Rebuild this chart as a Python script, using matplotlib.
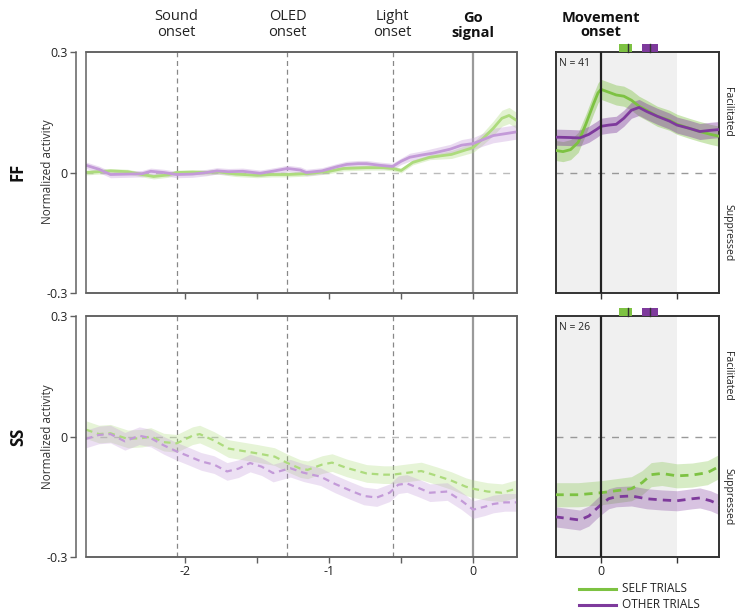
import matplotlib
matplotlib.use('Agg')
import matplotlib.pyplot as plt
from matplotlib.patches import Rectangle
from matplotlib.lines import Line2D

plt.rcParams['font.family'] = ['Open Sans', 'DejaVu Sans']

# ---------------- data ----------------
# Pre-movement (aligned to go signal), FF cells
ff_pre_self_t = [-2.69, -2.6, -2.52, -2.4, -2.3, -2.22, -2.12, -2.06, -1.95, -1.85, -1.78, -1.65, -1.5, -1.4,
                 -1.29, -1.15, -1.0, -0.9, -0.74, -0.62, -0.56, -0.5, -0.42, -0.3, -0.15, 0.0, 0.07, 0.14, 0.2,
                 0.25, 0.3]
ff_pre_self = [0.0, 0.002, 0.004, 0.002, -0.005, -0.01, -0.006, 0.0, 0.001, 0.0, 0.002, -0.004, -0.007, -0.005,
               -0.005, -0.003, 0.003, 0.01, 0.012, 0.012, 0.01, 0.005, 0.025, 0.038, 0.045, 0.062, 0.085, 0.11,
               0.135, 0.142, 0.13]
ff_pre_self_sem = [0.006] * 24 + [0.01, 0.012, 0.015, 0.018, 0.02, 0.02, 0.02]

ff_pre_other_t = [-2.69, -2.6, -2.52, -2.4, -2.3, -2.24, -2.15, -2.06, -1.95, -1.85, -1.78, -1.7, -1.6, -1.48,
                  -1.38, -1.29, -1.2, -1.16, -1.05, -0.95, -0.88, -0.8, -0.74, -0.65, -0.56, -0.5, -0.44, -0.35,
                  -0.28, -0.16, -0.08, 0.0, 0.07, 0.14, 0.23, 0.3]
ff_pre_other = [0.018, 0.008, -0.005, -0.004, -0.003, 0.003, 0.0, -0.005, -0.004, 0.0, 0.004, 0.002, 0.003,
                -0.002, 0.004, 0.01, 0.006, 0.0, 0.004, 0.014, 0.02, 0.022, 0.022, 0.018, 0.015, 0.028, 0.038,
                0.044, 0.048, 0.058, 0.068, 0.072, 0.082, 0.092, 0.097, 0.101]
ff_pre_other_sem = [0.008] * 26 + [0.01, 0.01, 0.012, 0.012, 0.014, 0.015, 0.016, 0.018, 0.018, 0.018]

# Pre-movement, SS cells
ss_pre_self_t = [-2.69, -2.6, -2.52, -2.4, -2.3, -2.24, -2.15, -2.06, -1.95, -1.9, -1.8, -1.7, -1.6, -1.5, -1.38,
                 -1.29, -1.2, -1.15, -1.05, -0.98, -0.88, -0.74, -0.62, -0.56, -0.45, -0.36, -0.25, -0.15, -0.05,
                 0.0, 0.1, 0.2, 0.3]
ss_pre_self = [0.017, 0.006, 0.008, -0.006, -0.004, 0.0, -0.014, -0.017, 0.002, 0.006, -0.01, -0.03, -0.036,
               -0.042, -0.05, -0.066, -0.08, -0.083, -0.07, -0.065, -0.078, -0.092, -0.095, -0.095, -0.09, -0.086,
               -0.098, -0.11, -0.125, -0.13, -0.137, -0.14, -0.13]
ss_pre_self_sem = 0.022

ss_pre_other_t = [-2.69, -2.6, -2.52, -2.42, -2.32, -2.24, -2.15, -2.06, -1.97, -1.89, -1.8, -1.71, -1.63, -1.55,
                  -1.47, -1.39, -1.33, -1.27, -1.18, -1.06, -0.96, -0.85, -0.76, -0.67, -0.58, -0.52, -0.46,
                  -0.38, -0.3, -0.18, -0.08, 0.0, 0.08, 0.14, 0.22, 0.3]
ss_pre_other = [-0.006, 0.004, 0.006, -0.012, 0.002, -0.004, -0.022, -0.037, -0.05, -0.062, -0.07, -0.087, -0.08,
                -0.066, -0.075, -0.091, -0.085, -0.079, -0.09, -0.1, -0.118, -0.135, -0.148, -0.152, -0.14, -0.12,
                -0.117, -0.128, -0.14, -0.137, -0.16, -0.182, -0.175, -0.168, -0.164, -0.164]
ss_pre_other_sem = 0.022

# Aligned to movement onset
ff_mov_self_t = [-0.3, -0.25, -0.2, -0.15, -0.1, -0.05, -0.02, 0.0, 0.05, 0.1, 0.15, 0.2, 0.25, 0.3, 0.37, 0.45,
                 0.5, 0.58, 0.65, 0.72, 0.78]
ff_mov_self = [0.055, 0.052, 0.057, 0.075, 0.12, 0.17, 0.198, 0.207, 0.2, 0.193, 0.19, 0.18, 0.165, 0.155, 0.14,
               0.13, 0.12, 0.11, 0.102, 0.095, 0.09]
ff_mov_self_sem = 0.025
ff_mov_other_t = [-0.3, -0.2, -0.14, -0.08, -0.03, 0.0, 0.05, 0.1, 0.15, 0.2, 0.25, 0.3, 0.37, 0.45, 0.5, 0.58,
                  0.65, 0.72, 0.78]
ff_mov_other = [0.088, 0.087, 0.086, 0.095, 0.107, 0.115, 0.118, 0.12, 0.135, 0.155, 0.162, 0.152, 0.14, 0.128,
                0.118, 0.11, 0.102, 0.105, 0.107]
ff_mov_other_sem = 0.02

ss_mov_self_t = [-0.3, -0.15, 0.0, 0.1, 0.2, 0.27, 0.33, 0.4, 0.5, 0.6, 0.7, 0.78]
ss_mov_self = [-0.145, -0.145, -0.14, -0.135, -0.13, -0.115, -0.095, -0.092, -0.098, -0.096, -0.09, -0.074]
ss_mov_self_sem = 0.03
ss_mov_other_t = [-0.3, -0.2, -0.14, -0.08, -0.03, 0.0, 0.05, 0.1, 0.2, 0.3, 0.4, 0.5, 0.6, 0.65, 0.72, 0.78]
ss_mov_other = [-0.2, -0.205, -0.208, -0.198, -0.18, -0.17, -0.155, -0.15, -0.148, -0.155, -0.158, -0.16, -0.155,
                -0.153, -0.16, -0.17]
ss_mov_other_sem = 0.025

# Event times (s, relative to go signal)
event_times = [-2.06, -1.29, -0.56]
event_names = ['Sound\nonset', 'OLED\nonset', 'Light\nonset']
# Movement-onset markers: [start, centre, end]
self_marker = [0.118, 0.178, 0.204]
other_marker = [0.27, 0.322, 0.376]
n_cells = {'FF': 41, 'SS': 26}

# ---------------- style ----------------
G_DARK, P_DARK = '#7dc242', '#7e3a9c'
G_LIGHT, P_LIGHT = '#addb7d', '#c39ad8'
W, H = 737, 613

fig = plt.figure(figsize=(W / 100, H / 100), dpi=100)


def ax_at(l, t, r, b):
    return fig.add_axes([l / W, 1 - b / H, (r - l) / W, (b - t) / H])


axFL = ax_at(86, 52, 517, 293)
axFR = ax_at(556, 52, 719, 293)
axSL = ax_at(86, 316, 517, 557)
axSR = ax_at(556, 316, 719, 557)


def band(ax, t, y, sem, color, alpha, ls, lw):
    if not isinstance(sem, list):
        sem = [sem] * len(y)
    lo = [a - s for a, s in zip(y, sem)]
    hi = [a + s for a, s in zip(y, sem)]
    ax.fill_between(t, lo, hi, color=color, alpha=alpha, lw=0, zorder=2)
    line, = ax.plot(t, y, color=color, lw=lw, zorder=3, solid_capstyle='round', solid_joinstyle='round')
    if ls == 'dashed':
        line.set_dashes((3.0, 2.2))


for ax in (axFL, axSL):
    ax.set_xlim(-2.69, 0.305)
    ax.set_ylim(-0.3, 0.3)
    for t in event_times:
        ax.axvline(t, color='#888888', lw=0.9, ls=(0, (4, 3)), zorder=1)
    ax.axvline(0, color='#9a9a9a', lw=1.6, zorder=1)
    ax.axhline(0, color='#bbbbbb', lw=1.0, ls=(0, (5, 5)), zorder=1)
    ax.set_yticks([-0.3, 0, 0.3])
    ax.set_yticklabels(['-0.3', '0', '0.3'])
    ax.set_xticks([-2, -1.5, -1, -0.5, 0])
    ax.spines['left'].set_position(('outward', 7))
    for s in ax.spines.values():
        s.set_color('#606060')
        s.set_linewidth(1.1)
    ax.add_patch(Rectangle((0, 0), 1, 1, transform=ax.transAxes, fill=False, ec='#606060', lw=1.1,
                           clip_on=False, zorder=5))
    ax.tick_params(axis='both', direction='out', length=4, width=1, color='#606060',
                   labelsize=9, labelcolor='#222222', pad=2)

axFL.set_xticklabels([])
axSL.set_xticklabels(['-2', '', '-1', '', '0'])

for ax in (axFR, axSR):
    ax.set_xlim(-0.296, 0.776)
    ax.set_ylim(-0.3, 0.3)
    ax.axvspan(-0.3, 0.5, color='#f0f0f0', lw=0, zorder=0)
    ax.axvline(0, color='#222222', lw=1.6, zorder=4)
    ax.axhline(0, color='#999999', lw=1.0, ls=(0, (5, 5)), zorder=1)
    ax.set_yticks([])
    ax.set_xticks([0, 0.5])
    for s in ax.spines.values():
        s.set_color('#333333')
        s.set_linewidth(1.4)
    ax.tick_params(axis='x', direction='out', length=4, width=1, color='#333333',
                   labelsize=9, labelcolor='#222222', pad=2)
    for (a, c, b), col in ((self_marker, G_DARK), (other_marker, P_DARK)):
        ax.add_patch(Rectangle((a, 0.3), b - a, 0.02, color=col, lw=0, clip_on=False, zorder=6))
        ax.plot([c, c], [0.3, 0.32], color='#333333', lw=1.0, clip_on=False, zorder=7)

axFR.set_xticklabels([])
axSR.set_xticklabels(['0', ''])

# curves
band(axFL, ff_pre_self_t, ff_pre_self, ff_pre_self_sem, G_LIGHT, 0.35, 'solid', 2.0)
band(axFL, ff_pre_other_t, ff_pre_other, ff_pre_other_sem, P_LIGHT, 0.35, 'solid', 2.0)
band(axSL, ss_pre_self_t, ss_pre_self, ss_pre_self_sem, G_LIGHT, 0.3, 'dashed', 1.6)
band(axSL, ss_pre_other_t, ss_pre_other, ss_pre_other_sem, P_LIGHT, 0.3, 'dashed', 1.6)
band(axFR, ff_mov_self_t, ff_mov_self, ff_mov_self_sem, G_DARK, 0.4, 'solid', 2.0)
band(axFR, ff_mov_other_t, ff_mov_other, ff_mov_other_sem, P_DARK, 0.4, 'solid', 2.0)
band(axSR, ss_mov_self_t, ss_mov_self, ss_mov_self_sem, G_DARK, 0.3, 'dashed', 2.0)
band(axSR, ss_mov_other_t, ss_mov_other, ss_mov_other_sem, P_DARK, 0.3, 'dashed', 2.0)

# headers
for t, name in zip(event_times, event_names):
    axFL.annotate(name, xy=(t, 1), xycoords=('data', 'axes fraction'), xytext=(0, 9),
                  textcoords='offset points', ha='center', va='bottom', fontsize=10.5,
                  color='#222222', linespacing=1.0)
axFL.annotate('Go\nsignal', xy=(0, 1), xycoords=('data', 'axes fraction'), xytext=(0, 9),
              textcoords='offset points', ha='center', va='bottom', fontsize=10.5, fontweight='bold',
              color='#111111', linespacing=1.0)
axFR.annotate('Movement\nonset', xy=(0, 1), xycoords=('data', 'axes fraction'), xytext=(0, 9),
              textcoords='offset points', ha='center', va='bottom', fontsize=10.5, fontweight='bold',
              color='#111111', linespacing=1.0)

# N labels and side labels
for ax, key in ((axFR, 'FF'), (axSR, 'SS')):
    ax.text(0.02, 0.975, f'N = {n_cells[key]}', transform=ax.transAxes, ha='left', va='top',
            fontsize=7.5, color='#222222')
    ax.text(1.055, 0.75, 'Facilitated', transform=ax.transAxes, rotation=270, ha='center', va='center',
            fontsize=7.5, color='#222222')
    ax.text(1.055, 0.25, 'Suppressed', transform=ax.transAxes, rotation=270, ha='center', va='center',
            fontsize=7.5, color='#222222')

for yc, lab in ((172, 'FF'), (437, 'SS')):
    fig.text(47 / W, 1 - yc / H, 'Normalized activity', rotation=90, ha='center', va='center',
             fontsize=8.5, color='#333333')
    fig.text(18 / W, 1 - yc / H, lab, rotation=90, ha='center', va='center', fontsize=12,
             fontweight='bold', color='#111111')

# legend
for yl, col, lab in ((589, G_DARK, 'SELF TRIALS'), (605, P_DARK, 'OTHER TRIALS')):
    fig.add_artist(Line2D([579 / W, 616 / W], [1 - yl / H, 1 - yl / H], color=col, lw=2.2))
    fig.text(622 / W, 1 - yl / H, lab, ha='left', va='center', fontsize=8.5, color='#222222')

fig.savefig('out.png', dpi=100)
